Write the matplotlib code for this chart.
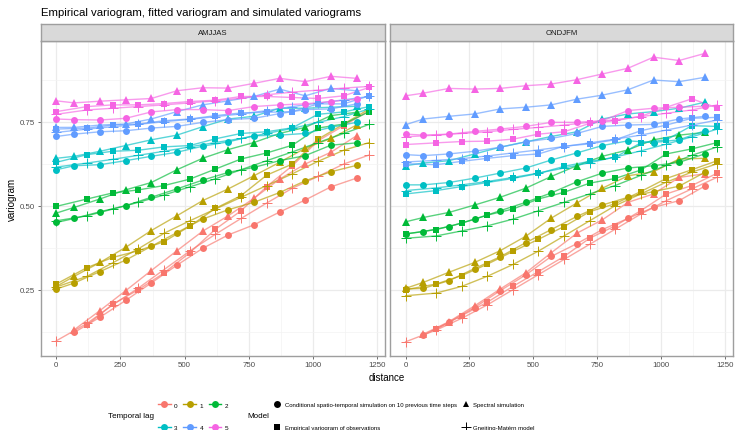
import numpy as np
import matplotlib
matplotlib.use('Agg')
import matplotlib.pyplot as plt
from matplotlib.lines import Line2D

plt.rcParams['font.family'] = ['Liberation Sans', 'DejaVu Sans']

nan = np.nan

# distances of the simulated variograms (circles, triangles)
dist_sim = [0, 70, 170, 270, 370, 470, 570, 670, 770, 870, 970, 1070, 1170]
# distances of empirical variogram and fitted model (squares, plus)
dist_emp = [0, 120, 220, 320, 420, 520, 620, 720, 820, 920, 1020, 1120, 1220]

lags = ['0', '1', '2', '3', '4', '5']
lag_colors = ['#F8766D', '#B79F00', '#00BA38', '#00BFC4', '#619CFF', '#F564E3']
seasons = ['AMJJAS', 'ONDJFM']

# ---- AMJJAS ----
cond_amjjas = [
    [nan, 0.123, 0.168, 0.218, 0.270, 0.323, 0.373, 0.413, 0.443, 0.481, 0.517, 0.556, 0.582],
    [0.252, 0.270, 0.304, 0.338, 0.379, 0.420, 0.460, 0.488, 0.510, 0.539, 0.574, 0.601, 0.620],
    [0.450, 0.462, 0.482, 0.500, 0.525, 0.550, 0.576, 0.599, 0.614, 0.634, 0.649, 0.680, 0.687],
    [0.607, 0.619, 0.622, 0.634, 0.647, 0.659, 0.677, 0.690, 0.708, 0.710, 0.715, 0.733, 0.748],
    [0.706, 0.713, 0.720, 0.723, 0.731, 0.736, 0.748, 0.756, 0.760, 0.774, 0.786, 0.788, 0.803],
    [0.758, 0.756, 0.755, 0.760, 0.779, 0.786, 0.786, 0.783, 0.795, 0.800, 0.803, 0.810, 0.817],
]
spec_amjjas = [
    [nan, 0.131, 0.188, 0.247, 0.307, 0.366, 0.424, 0.470, 0.522, 0.579, 0.624, 0.659, 0.708],
    [0.260, 0.290, 0.331, 0.376, 0.426, 0.470, 0.515, 0.550, 0.589, 0.629, 0.671, 0.700, 0.740],
    [0.478, 0.495, 0.520, 0.547, 0.569, 0.607, 0.641, 0.667, 0.688, 0.715, 0.733, 0.768, 0.778],
    [0.641, 0.647, 0.662, 0.679, 0.696, 0.710, 0.735, 0.758, 0.766, 0.790, 0.790, 0.793, 0.796],
    [0.733, 0.733, 0.740, 0.743, 0.758, 0.780, 0.800, 0.812, 0.825, 0.847, 0.827, 0.849, 0.842],
    [0.812, 0.806, 0.811, 0.815, 0.819, 0.842, 0.851, 0.850, 0.864, 0.879, 0.869, 0.885, 0.879],
]
emp_amjjas = [
    [nan, 0.145, 0.207, 0.250, 0.300, 0.360, 0.430, 0.485, 0.557, 0.619, 0.693, 0.738, 0.783],
    [0.267, 0.316, 0.346, 0.366, 0.393, 0.439, 0.492, 0.530, 0.591, 0.624, 0.698, 0.743, 0.788],
    [0.498, 0.520, 0.538, 0.547, 0.560, 0.579, 0.609, 0.639, 0.657, 0.680, 0.731, 0.743, 0.780],
    [0.629, 0.652, 0.662, 0.665, 0.675, 0.679, 0.699, 0.715, 0.720, 0.732, 0.772, 0.779, 0.795],
    [0.728, 0.731, 0.740, 0.743, 0.753, 0.758, 0.768, 0.776, 0.778, 0.780, 0.803, 0.803, 0.827],
    [0.780, 0.795, 0.800, 0.800, 0.804, 0.810, 0.814, 0.825, 0.825, 0.822, 0.819, 0.827, 0.852],
]
gm_amjjas = [
    [0.098, 0.150, 0.205, 0.255, 0.310, 0.365, 0.415, 0.462, 0.508, 0.552, 0.587, 0.624, 0.651],
    [0.258, 0.290, 0.330, 0.372, 0.418, 0.455, 0.490, 0.525, 0.560, 0.595, 0.632, 0.665, 0.688],
    [0.455, 0.470, 0.490, 0.510, 0.532, 0.556, 0.580, 0.607, 0.634, 0.660, 0.688, 0.715, 0.742],
    [0.615, 0.627, 0.638, 0.650, 0.662, 0.675, 0.688, 0.700, 0.715, 0.730, 0.748, 0.765, 0.788],
    [0.718, 0.728, 0.735, 0.742, 0.750, 0.757, 0.765, 0.773, 0.783, 0.795, 0.805, 0.815, 0.825],
    [0.772, 0.785, 0.790, 0.795, 0.800, 0.806, 0.812, 0.820, 0.830, 0.838, 0.844, 0.850, 0.855],
]

# ---- ONDJFM ----
cond_ondjfm = [
    [nan, 0.115, 0.153, 0.197, 0.247, 0.294, 0.349, 0.387, 0.429, 0.462, 0.495, 0.515, 0.558],
    [0.252, 0.254, 0.277, 0.313, 0.348, 0.390, 0.429, 0.468, 0.502, 0.525, 0.542, 0.558, 0.599],
    [0.416, 0.423, 0.438, 0.460, 0.485, 0.510, 0.538, 0.571, 0.597, 0.612, 0.619, 0.629, 0.654],
    [0.562, 0.562, 0.569, 0.582, 0.597, 0.612, 0.636, 0.657, 0.679, 0.693, 0.688, 0.696, 0.723],
    [0.652, 0.649, 0.654, 0.662, 0.674, 0.690, 0.700, 0.715, 0.736, 0.740, 0.742, 0.758, 0.766],
    [0.713, 0.710, 0.713, 0.721, 0.728, 0.736, 0.748, 0.748, 0.753, 0.783, 0.790, 0.793, 0.796],
]
spec_ondjfm = [
    [nan, 0.118, 0.155, 0.202, 0.252, 0.300, 0.360, 0.418, 0.458, 0.510, 0.535, 0.584, 0.595],
    [0.254, 0.272, 0.302, 0.331, 0.366, 0.409, 0.463, 0.508, 0.552, 0.589, 0.601, 0.639, 0.641],
    [0.452, 0.465, 0.480, 0.502, 0.525, 0.552, 0.587, 0.619, 0.647, 0.666, 0.696, 0.710, 0.718],
    [0.619, 0.627, 0.634, 0.654, 0.674, 0.690, 0.706, 0.720, 0.758, 0.773, 0.780, 0.790, 0.808],
    [0.741, 0.758, 0.766, 0.773, 0.788, 0.793, 0.800, 0.817, 0.829, 0.845, 0.874, 0.869, 0.882],
    [0.827, 0.835, 0.849, 0.847, 0.849, 0.857, 0.862, 0.875, 0.892, 0.909, 0.942, 0.932, 0.953],
]
emp_ondjfm = [
    [nan, 0.133, 0.173, 0.213, 0.260, 0.304, 0.349, 0.403, 0.440, 0.485, 0.535, 0.560, 0.597],
    [0.250, 0.267, 0.292, 0.326, 0.364, 0.400, 0.438, 0.482, 0.506, 0.542, 0.581, 0.607, 0.634],
    [0.416, 0.429, 0.448, 0.472, 0.490, 0.520, 0.540, 0.567, 0.581, 0.606, 0.654, 0.669, 0.688],
    [0.535, 0.545, 0.557, 0.569, 0.581, 0.596, 0.617, 0.632, 0.644, 0.687, 0.696, 0.738, 0.736],
    [0.625, 0.622, 0.632, 0.641, 0.649, 0.654, 0.677, 0.684, 0.696, 0.723, 0.740, 0.760, 0.763],
    [0.682, 0.687, 0.691, 0.692, 0.698, 0.713, 0.720, 0.745, 0.753, 0.766, 0.793, 0.818, 0.791],
]
gm_ondjfm = [
    [0.095, 0.130, 0.165, 0.205, 0.250, 0.295, 0.340, 0.385, 0.430, 0.475, 0.515, 0.550, 0.585],
    [0.232, 0.240, 0.260, 0.290, 0.325, 0.365, 0.410, 0.455, 0.500, 0.535, 0.570, 0.600, 0.625],
    [0.403, 0.410, 0.425, 0.440, 0.460, 0.485, 0.510, 0.535, 0.560, 0.590, 0.620, 0.650, 0.675],
    [0.545, 0.553, 0.562, 0.572, 0.584, 0.597, 0.612, 0.628, 0.645, 0.663, 0.683, 0.705, 0.728],
    [0.630, 0.635, 0.640, 0.648, 0.657, 0.666, 0.676, 0.687, 0.698, 0.710, 0.725, 0.740, 0.755],
    [0.705, 0.710, 0.715, 0.720, 0.727, 0.733, 0.740, 0.748, 0.756, 0.765, 0.775, 0.785, 0.800],
]

model_names = ['Conditional spatio-temporal simulation on 10 previous time steps',
               'Empirical variogram of observations',
               'Spectral simulation',
               'Gneiting-Matérn model']

W, H = 736, 431
fig = plt.figure(figsize=(W / 100, H / 100), dpi=100)
fig.patch.set_facecolor('white')

def fx(px):
    return px / W

def fy(py):
    return 1 - py / H

panel_x = [(40.7, 385.0), (390.0, 733.0)]
top, bottom, strip_top = 41.7, 356.7, 25.3

facet_data = [
    (cond_amjjas, spec_amjjas, emp_amjjas, gm_amjjas),
    (cond_ondjfm, spec_ondjfm, emp_ondjfm, gm_ondjfm),
]

for k, (x0, x1) in enumerate(panel_x):
    ax = fig.add_axes([fx(x0), fy(bottom), fx(x1 - x0), (bottom - top) / H])
    cond, spec, emp, gm = facet_data[k]
    for i in range(6):
        c = lag_colors[i]
        ax.plot(dist_sim, cond[i], color=c, lw=1.0, alpha=0.65, zorder=2)
        ax.plot(dist_sim, cond[i], 'o', color=c, ms=5.0, mew=0, zorder=3)
        ax.plot(dist_sim, spec[i], color=c, lw=1.0, alpha=0.65, zorder=2)
        ax.plot(dist_sim, spec[i], '^', color=c, ms=5.4, mew=0, zorder=3)
        ax.plot(dist_emp, emp[i], color=c, lw=1.0, alpha=0.65, zorder=2)
        ax.plot(dist_emp, emp[i], 's', color=c, ms=4.7, mew=0, zorder=3)
        ax.plot(dist_emp, gm[i], color=c, lw=1.0, alpha=0.65, zorder=2)
        ax.plot(dist_emp, gm[i], '+', color=c, ms=6.8, mew=0.7, zorder=3)

    ax.set_xlim(-61, 1281)
    ax.set_ylim(0.0536, 0.991)
    ax.set_xticks([0, 250, 500, 750, 1000, 1250])
    ax.set_xticks([125, 375, 625, 875, 1125], minor=True)
    ax.set_yticks([0.25, 0.50, 0.75])
    ax.set_yticks([0.125, 0.375, 0.625, 0.875], minor=True)
    ax.grid(True, which='major', color='#EBEBEB', lw=0.9, zorder=0)
    ax.grid(True, which='minor', color='#F3F3F3', lw=0.5, zorder=0)
    ax.set_axisbelow(True)
    ax.tick_params(which='major', length=2.5, width=0.6, color='#555555',
                   labelsize=5.7, labelcolor='#4D4D4D', pad=1.5)
    ax.tick_params(which='minor', length=0)
    if k == 0:
        ax.set_yticklabels(['0.25', '0.50', '0.75'])
    else:
        ax.set_yticklabels([])
        ax.tick_params(axis='y', which='major', length=0)
    for s in ax.spines.values():
        s.set_color('#9E9E9E')
        s.set_linewidth(1.0)

    # facet strip
    sax = fig.add_axes([fx(x0), fy(top), fx(x1 - x0), (top - strip_top) / H])
    sax.set_facecolor('#D9D9D9')
    sax.set_xticks([])
    sax.set_yticks([])
    for s in sax.spines.values():
        s.set_color('#9E9E9E')
        s.set_linewidth(1.0)
    sax.text(0.5, 0.5, seasons[k], transform=sax.transAxes, ha='center', va='center',
             fontsize=5.6, color='#1A1A1A')

fig.text(fx(41), fy(16.5), 'Empirical variogram, fitted variogram and simulated variograms',
         fontsize=8.2, ha='left', va='baseline', color='black')
fig.text(fx(387), fy(378), 'distance', fontsize=7, ha='center', va='center')
fig.text(fx(12), fy(199), 'variogram', fontsize=7, ha='center', va='center', rotation=90)

# legends
fig.text(fx(108), fy(417), 'Temporal lag', fontsize=5.8, ha='left', va='center')
lag_handles = [Line2D([], [], color=c, lw=1.0, marker='o', ms=5.0, mew=0) for c in lag_colors]
order = [0, 3, 1, 4, 2, 5]
leg1 = fig.legend([lag_handles[j] for j in order], [lags[j] for j in order],
                  ncol=3, loc='center left', bbox_to_anchor=(fx(158), fy(417)),
                  frameon=False, fontsize=4.6, handlelength=2.0, handletextpad=0.5,
                  columnspacing=0.9, labelspacing=2.6, borderpad=0, borderaxespad=0)

fig.text(fx(247), fy(417), 'Model', fontsize=5.8, ha='left', va='center')
model_markers = ['o', 's', '^', '+']
model_handles = [Line2D([], [], color='black', lw=0, marker=m,
                        ms=5.0 if m != '+' else 7, mew=0 if m != '+' else 0.7)
                 for m in model_markers]
leg2 = fig.legend(model_handles, model_names, ncol=2, loc='center left',
                  bbox_to_anchor=(fx(274), fy(417)), frameon=False, fontsize=4.3,
                  handlelength=1.0, handletextpad=0.8, columnspacing=1.0,
                  labelspacing=2.9, borderpad=0, borderaxespad=0)

fig.savefig('out.png', dpi=100, facecolor='white')
